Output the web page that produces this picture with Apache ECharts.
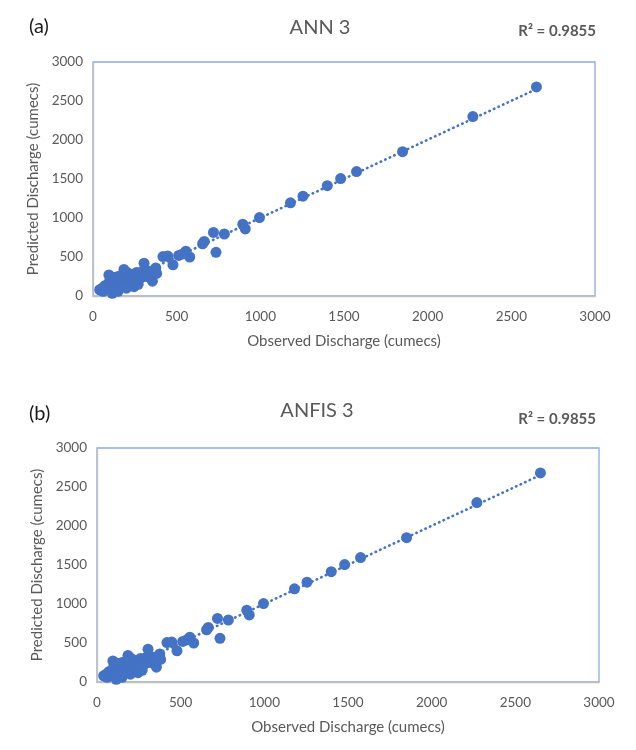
<!DOCTYPE html>
<html>
<head>
<meta charset="utf-8">
<script src="https://cdn.jsdelivr.net/npm/echarts@6/dist/echarts.min.js"></script>
<style>
html,body{margin:0;padding:0;background:#fff;}
#chart{width:636px;height:750px;}
</style>
</head>
<body>
<div id="chart"></div>
<script>
// ---- data (observed, predicted) in cumecs ----
const observedDischarge = [
  2650, 2270, 1850, 1575, 1480, 1400, 1255, 1180, 995, 895, 910, 720, 785, 665, 655, 735,
  555, 535, 578, 512, 418, 447, 478, 305, 357, 355,
  40, 55, 60, 70, 80, 90, 95, 100, 105, 110, 115, 120, 125, 130, 135, 140, 145, 150, 155,
  160, 165, 170, 175, 180, 185, 190, 195, 200, 205, 210, 215, 220, 225, 230, 240, 245,
  250, 255, 260, 265, 270, 280, 285, 290, 300, 310, 320, 330, 340, 350, 365, 375, 380,
  150, 130, 200, 245, 270
];
const predictedDischarge = [
  2680, 2300, 1850, 1595, 1505, 1415, 1280, 1195, 1005, 920, 860, 815, 795, 700, 670, 560,
  575, 540, 500, 520, 505, 512, 400, 420, 280, 190,
  80, 100, 60, 130, 110, 150, 270, 200, 90, 170, 35, 240, 140, 190, 110, 210, 160, 250, 120,
  180, 220, 140, 270, 200, 340, 160, 230, 190, 300, 150, 260, 210, 180, 240, 280, 200,
  230, 170, 300, 250, 210, 270, 230, 310, 260, 290, 250, 320, 280, 300, 320, 360, 290,
  60, 70, 100, 120, 150
];
const xTicks = [0, 500, 1000, 1500, 2000, 2500, 3000];
const yTicks = [0, 500, 1000, 1500, 2000, 2500, 3000];
const panelTitles = ['ANN 3', 'ANFIS 3'];
const panelTags = ['(a)', '(b)'];
const rSquared = ['R² = 0.9855', 'R² = 0.9855'];

// linear trendline (least squares) from the data
function fit(xs, ys) {
  const n = xs.length;
  let sx = 0, sy = 0, sxx = 0, sxy = 0;
  for (let i = 0; i < n; i++) { sx += xs[i]; sy += ys[i]; sxx += xs[i]*xs[i]; sxy += xs[i]*ys[i]; }
  const b = (n*sxy - sx*sy) / (n*sxx - sx*sx);
  const a = (sy - b*sx) / n;
  const xmin = Math.min(...xs), xmax = Math.max(...xs);
  return [[xmin, a + b*xmin], [xmax, a + b*xmax]];
}
const points = observedDischarge.map((v, i) => [v, predictedDischarge[i]]);
const trend = fit(observedDischarge, predictedDischarge);

const FONT = 'Lato';
const GREY = '#595959';
const BLUE = '#4472C4';

const grids = [
  {left: 93, top: 62, width: 502, height: 234},
  {left: 97, top: 448, width: 502, height: 234}
];

const chart = echarts.init(document.getElementById('chart'), null, {renderer: 'canvas'});
const option = {
  backgroundColor: '#fff',
  animation: false,
  textStyle: {fontFamily: FONT},
  grid: grids.map(g => Object.assign({show: true, borderColor: '#8FAADC', borderWidth: 1.3, backgroundColor: 'transparent'}, g)),
  title: [
    {text: panelTags[0], left: 24, top: 12, textStyle: {fontFamily: FONT, fontSize: 20, fontWeight: 'normal', color: '#1a1a1a'}},
    {text: panelTitles[0], left: 315, top: 13, textAlign: 'center', textStyle: {fontFamily: FONT, fontSize: 20, fontWeight: 'normal', color: GREY}},
    {text: rSquared[0], right: 35, top: 19, textStyle: {fontFamily: FONT, fontSize: 15, fontWeight: 'bold', color: GREY}},
    {text: panelTags[1], left: 24, top: 399, textStyle: {fontFamily: FONT, fontSize: 20, fontWeight: 'normal', color: '#1a1a1a'}},
    {text: panelTitles[1], left: 312, top: 396, textAlign: 'center', textStyle: {fontFamily: FONT, fontSize: 20, fontWeight: 'normal', color: GREY}},
    {text: rSquared[1], right: 35, top: 407, textStyle: {fontFamily: FONT, fontSize: 15, fontWeight: 'bold', color: GREY}}
  ],
  xAxis: [0, 1].map(i => ({
    type: 'value', gridIndex: i, min: 0, max: 3000, interval: 500,
    name: 'Observed Discharge (cumecs)', nameLocation: 'middle', nameGap: 38,
    nameTextStyle: {fontFamily: FONT, fontSize: 15, color: GREY},
    axisLine: {show: true, lineStyle: {color: '#BFBFBF', width: 1.3}},
    axisTick: {show: false},
    splitLine: {show: false},
    axisLabel: {fontFamily: FONT, fontSize: 13.5, color: GREY, margin: 14,
      formatter: v => xTicks.includes(v) ? String(v) : ''}
  })),
  yAxis: [0, 1].map(i => ({
    type: 'value', gridIndex: i, min: 0, max: 3000, interval: 500,
    name: 'Predicted Discharge (cumecs)', nameLocation: 'middle', nameGap: 52,
    nameTextStyle: {fontFamily: FONT, fontSize: 15, color: GREY},
    axisLine: {show: true, lineStyle: {color: '#BFBFBF', width: 1.3}},
    axisTick: {show: false},
    splitLine: {show: false},
    axisLabel: {fontFamily: FONT, fontSize: 13.5, color: GREY, margin: 10,
      formatter: v => yTicks.includes(v) ? String(v) : ''}
  })),
  series: [0, 1].flatMap(i => ([
    {type: 'line', xAxisIndex: i, yAxisIndex: i, data: trend, showSymbol: false, symbol: 'none',
     lineStyle: {color: BLUE, width: 2.6, type: [0.5, 4.5], cap: 'round'}, z: 1, silent: true},
    {type: 'scatter', xAxisIndex: i, yAxisIndex: i, data: points, symbolSize: 11,
     itemStyle: {color: BLUE, opacity: 1}, z: 2}
  ]))
};
chart.setOption(option);
</script>
</body>
</html>
